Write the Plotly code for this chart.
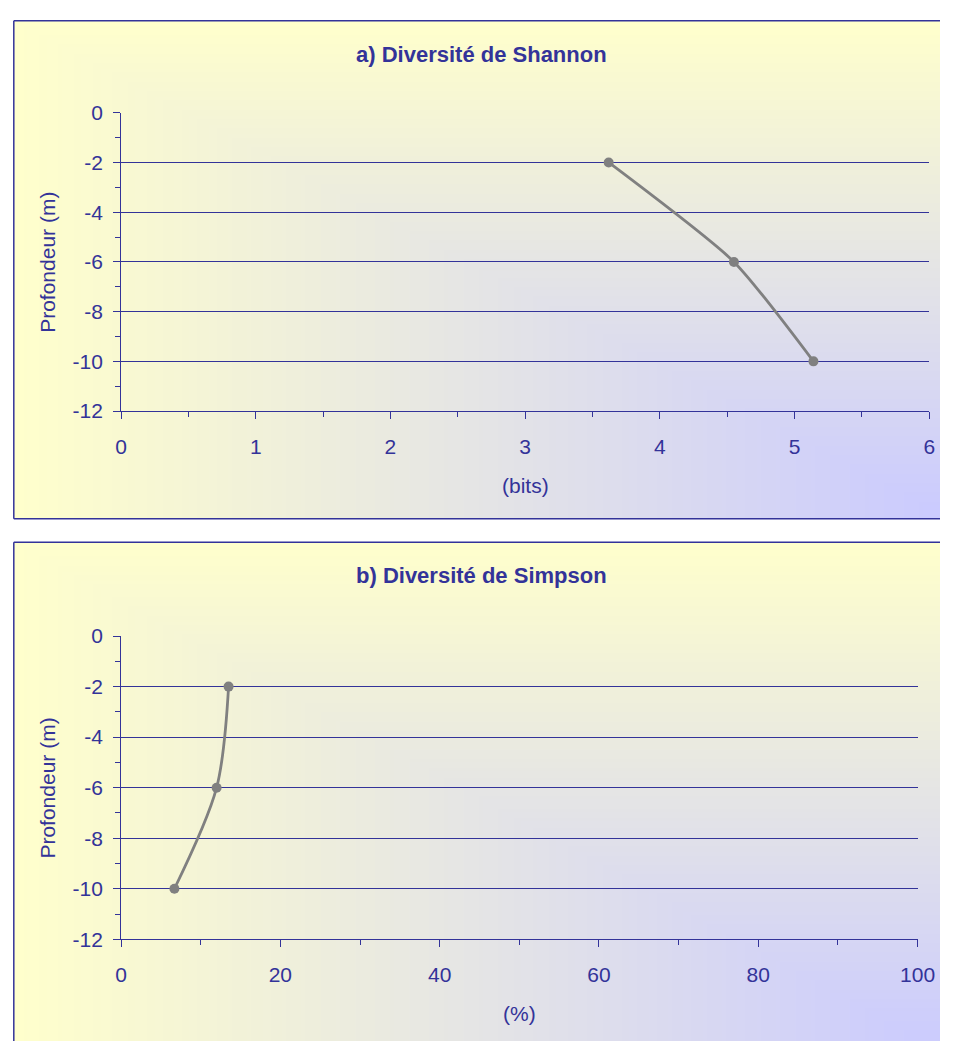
import base64, struct, zlib
import plotly.graph_objects as go

# ---------------- data ----------------
depth = [-2, -6, -10]
shannon_bits = [3.62, 4.55, 5.14]
simpson_pct = [13.5, 12.0, 6.7]

y_tickvals = [0, -2, -4, -6, -8, -10, -12]
y_ticktext = ["0", "-2", "-4", "-6", "-8", "-10", "-12"]
xa_tickvals = [0, 1, 2, 3, 4, 5, 6]
xa_ticktext = ["0", "1", "2", "3", "4", "5", "6"]
xb_tickvals = [0, 20, 40, 60, 80, 100]
xb_ticktext = ["0", "20", "40", "60", "80", "100"]

title_a = "a) Diversité de Shannon"
title_b = "b) Diversité de Simpson"
ytitle = "Profondeur (m)"
xtitle_a = "(bits)"
xtitle_b = "(%)"

# ---------------- styling ----------------
W, H = 958, 1052
NAVY = "#333399"
GRAY = "#808080"
FONT = "Arial, Liberation Sans, sans-serif"
FS = 21


def gradient_png(w=240, h=160, tmax_x=1.0, tmax_y=1.0):
    c0 = (255, 255, 204)
    c1 = (202, 202, 255)
    rows = []
    for j in range(h):
        v = tmax_y * j / (h - 1)
        row = bytearray([0])
        for i in range(w):
            u = tmax_x * i / (w - 1)
            t = min(u, v)
            row += bytes(int(round(c0[k] + (c1[k] - c0[k]) * t)) for k in range(3))
        rows.append(bytes(row))
    raw = b"".join(rows)

    def chunk(tag, data):
        c = struct.pack(">I", len(data)) + tag + data
        return c + struct.pack(">I", zlib.crc32(tag + data) & 0xFFFFFFFF)

    png = b"\x89PNG\r\n\x1a\n"
    png += chunk(b"IHDR", struct.pack(">IIBBBBB", w, h, 8, 2, 0, 0, 0))
    png += chunk(b"IDAT", zlib.compress(raw, 9))
    png += chunk(b"IEND", b"")
    return "data:image/png;base64," + base64.b64encode(png).decode()


def px(x):
    return x / W


def py(y):
    return 1 - y / H


panels = [
    dict(x0=8, x1=958, y0=9, y1=518, bottom=True),
    dict(x0=8, x1=958, y0=542, y1=1052, bottom=False),
]
areas = [
    dict(x0=118, x1=947, y0=103, y1=408),
    dict(x0=118, x1=935, y0=638, y1=948),
]

fig = go.Figure()

fig.add_trace(go.Scatter(
    x=shannon_bits, y=depth, mode="lines+markers",
    line=dict(color=GRAY, width=2.8, shape="spline", smoothing=0.6),
    marker=dict(color=GRAY, size=10),
    xaxis="x", yaxis="y", showlegend=False, cliponaxis=False,
))
fig.add_trace(go.Scatter(
    x=simpson_pct, y=depth, mode="lines+markers",
    line=dict(color=GRAY, width=2.8, shape="spline", smoothing=0.9),
    marker=dict(color=GRAY, size=10),
    xaxis="x2", yaxis="y2", showlegend=False, cliponaxis=False,
))

tickfont = dict(family=FONT, size=FS, color=NAVY)

common_y = dict(
    range=[-12, 0], tickmode="array", tickvals=y_tickvals, ticktext=y_ticktext,
    showgrid=True, gridcolor=NAVY, gridwidth=1, zeroline=False,
    showline=True, linecolor=NAVY, linewidth=1,
    ticks="outside", ticklen=7, tickcolor=NAVY, tickwidth=1,
    tickfont=tickfont, ticklabelstandoff=6,
    minor=dict(tickmode="array", tickvals=[-1, -3, -5, -7, -9, -11],
               ticks="outside", ticklen=5, tickcolor=NAVY, showgrid=False),
    fixedrange=True,
)
common_x = dict(
    showgrid=False, zeroline=False,
    showline=True, linecolor=NAVY, linewidth=1,
    ticks="outside", ticklen=7, tickcolor=NAVY, tickwidth=1,
    tickfont=tickfont, ticklabelstandoff=10, tickmode="array",
    fixedrange=True,
)

a, b = areas
fig.update_layout(
    autosize=True,
    margin=dict(l=0, r=0, t=0, b=0),
    paper_bgcolor="white",
    plot_bgcolor="rgba(0,0,0,0)",
    xaxis=dict(common_x, domain=[px(a["x0"]), px(a["x1"])], anchor="y",
               range=[0, 6], tickvals=xa_tickvals, ticktext=xa_ticktext,
               minor=dict(tickmode="array", tickvals=[0.5, 1.5, 2.5, 3.5, 4.5, 5.5],
                          ticks="outside", ticklen=5, tickcolor=NAVY, showgrid=False)),
    yaxis=dict(common_y, domain=[py(a["y1"]), py(a["y0"])], anchor="x"),
    xaxis2=dict(common_x, domain=[px(b["x0"]), px(b["x1"])], anchor="y2",
                range=[0, 100], tickvals=xb_tickvals, ticktext=xb_ticktext,
                minor=dict(tickmode="array", tickvals=[10, 30, 50, 70, 90],
                           ticks="outside", ticklen=5, tickcolor=NAVY, showgrid=False)),
    yaxis2=dict(common_y, domain=[py(b["y1"]), py(b["y0"])], anchor="x2"),
)

images = []
shapes = []
for p in panels:
    tmax_y = 1.0 if p["bottom"] else 0.97
    images.append(dict(
        source=gradient_png(tmax_x=0.99, tmax_y=tmax_y), xref="paper", yref="paper",
        x=px(p["x0"]), y=py(p["y0"]),
        sizex=px(p["x1"]) - px(p["x0"]), sizey=py(p["y0"]) - py(p["y1"]),
        xanchor="left", yanchor="top", sizing="stretch", layer="below",
    ))
    segs = [
        (p["x0"], p["y0"], p["x1"], p["y0"]),
        (p["x0"], p["y0"], p["x0"], p["y1"]),
    ]
    if p["bottom"]:
        segs.append((p["x0"], p["y1"], p["x1"], p["y1"]))
    for x0, y0, x1, y1 in segs:
        shapes.append(dict(
            type="line", xref="paper", yref="paper",
            x0=px(x0), x1=px(x1), y0=py(y0), y1=py(y1),
            line=dict(color=NAVY, width=1.5), layer="above",
        ))
fig.update_layout(images=images, shapes=shapes)

ann = []
for title, xt, ar, ty, xty in [
    (title_a, xtitle_a, a, 43, 484),
    (title_b, xtitle_b, b, 576, 1024),
]:
    ann.append(dict(text="<b>%s</b>" % title, xref="paper", yref="paper",
                    x=px(488), y=py(ty), showarrow=False,
                    xanchor="center", yanchor="middle",
                    font=dict(family=FONT, size=22, color=NAVY)))
    ann.append(dict(text=xt, xref="paper", yref="paper",
                    x=px((ar["x0"] + ar["x1"]) / 2), y=py(xty), showarrow=False,
                    xanchor="center", yanchor="middle",
                    font=dict(family=FONT, size=FS, color=NAVY)))
    ann.append(dict(text=ytitle, xref="paper", yref="paper",
                    x=px(43), y=py((ar["y0"] + ar["y1"]) / 2), showarrow=False,
                    textangle=-90, xanchor="center", yanchor="middle",
                    font=dict(family=FONT, size=FS, color=NAVY)))
fig.update_layout(annotations=ann)

# The plot div is pinned to the page's top-left corner so the body's default
# 8px margin does not enlarge the page beyond the 958x1052 window.
fig.write_html(
    "out.html",
    default_width="%dpx; position:absolute; left:0px; top:0px" % W,
    default_height="%dpx" % H,
)
